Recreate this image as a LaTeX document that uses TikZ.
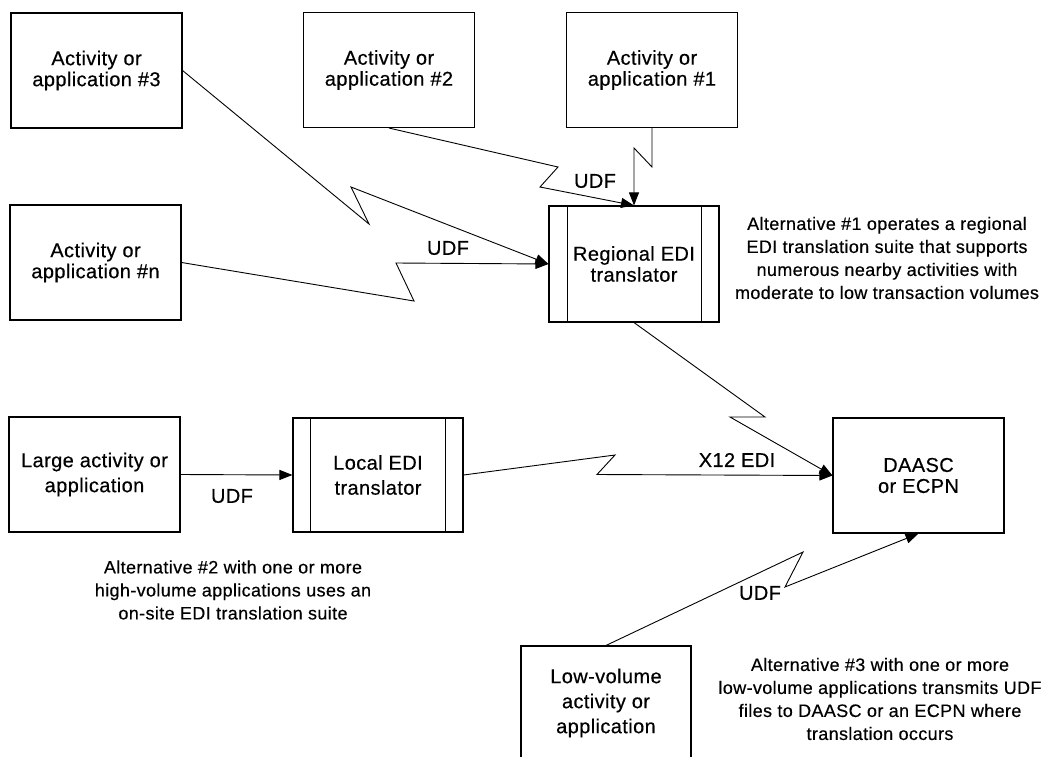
\documentclass[tikz,border=0pt]{standalone}
\usepackage{fontspec}
\setmainfont{Liberation Sans}[LetterSpace=2.0, FakeBold=0.4]
\usetikzlibrary{arrows.meta}

\begin{document}
\begin{tikzpicture}[x=1pt,y=-1pt,
  box/.style={draw, line width=1.1pt, minimum width=171pt, minimum height=115pt,
              inner sep=0pt, align=center, font=\fontsize{20}{21}\selectfont},
  widebox/.style={box, font=\fontsize{20}{25}\selectfont},
  flow/.style={line width=0.9pt, line join=miter, -{Triangle[length=13pt,width=10pt]}},
  lbl/.style={font=\fontsize{20}{21}\selectfont, inner sep=0pt},
  note/.style={align=center, inner sep=0pt, font=\fontsize{18}{23}\selectfont}]

\useasboundingbox (0,0) rectangle (1042,756);
\clip (0,0) rectangle (1042,756);
\fill[white] (0,0) rectangle (1042,756);

% activities feeding the regional translator
\node[box] (a3) at (96.5,70.5) {Activity or\\application \#3};
\node[box] (a2) at (389,70) {Activity or\\application \#2};
\node[box] (a1) at (652,70) {Activity or\\application \#1};
\node[box] (an) at (95.5,262.5) {Activity or\\application \#n};

% regional translator with its side bars
\node[box, minimum width=170pt, minimum height=116pt] (reg) at (634,264) {Regional EDI\\translator};
\draw[line width=1.1pt] ([xshift=19pt]reg.north west) -- ([xshift=19pt]reg.south west);
\draw[line width=1.1pt] ([xshift=-18pt]reg.north east) -- ([xshift=-18pt]reg.south east);

% local site
\node[widebox] (large) at (94.5,474.5) {Large activity or\\application};
\node[widebox, minimum width=170pt, minimum height=114pt] (local) at (378,475) {Local EDI\\translator};
\draw[line width=1.1pt] ([xshift=18pt]local.north west) -- ([xshift=18pt]local.south west);
\draw[line width=1.1pt] ([xshift=-18pt]local.north east) -- ([xshift=-18pt]local.south east);

% central node
\node[box] (daasc) at (918.5,475.5) {DAASC\\or ECPN};

% low-volume site, running off the lower edge
\node[widebox, minimum width=170pt, minimum height=114pt] (low) at (606,703) {Low-volume\\activity or\\application};

% connectors
\draw[flow] (a3.east) -- (369,224) -- (351,187) -- (reg.west);
\draw[flow] (a2.south) -- (558,167) -- (540,187) -- (reg.north);
\draw[flow] (a1.south) -- (652,167) -- (634,148) -- (reg.north);
\draw[flow] (an.east) -- (414,301) -- (396,263) -- (reg.west);
\draw[flow] (reg.south) -- (765,417) -- (730,417) -- (daasc.west);
\draw[flow] (local.east) -- (615,455) -- (597,474.5) -- (daasc.west);
\draw[flow] (large.east) -- (local.west);
\draw[flow] (low.north) -- (803,552) -- (785,587) -- (daasc.south);

% connector labels
\node[lbl] (u2) at (595,181) {UDF};
\node[lbl] (un) at (448,248) {UDF};
\node[lbl] (x12) at (737,460) {X12 EDI};
\node[lbl] (ul) at (232,496) {UDF};
\node[lbl] (uv) at (760,593) {UDF};

% notes on the three alternatives
\node[note] (alt1) at (887,258) {Alternative \#1 operates a regional\\EDI translation suite that supports\\numerous nearby activities with\\moderate to low transaction volumes};
\node[note] (alt2) at (233,590) {Alternative \#2 with one or more\\high-volume applications uses an\\on-site EDI translation suite};
\node[note] (alt3) at (880,699) {Alternative \#3 with one or more\\low-volume applications transmits UDF\\files to DAASC or an ECPN where\\translation occurs};
\end{tikzpicture}
\end{document}
